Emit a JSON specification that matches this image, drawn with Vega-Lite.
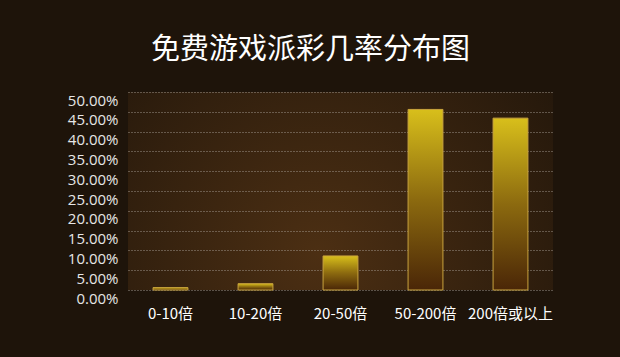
{
  "$schema": "https://vega.github.io/schema/vega-lite/v6.json",
  "width": 425,
  "height": 198,
  "autosize": {"type": "none"},
  "padding": {"left": 128, "top": 92, "right": 67, "bottom": 67},
  "background": "#1e140a",
  "title": {
    "text": "免费游戏派彩几率分布图",
    "font": "Noto Sans CJK SC",
    "fontSize": 29,
    "fontWeight": "normal",
    "color": "#ffffff",
    "anchor": "middle",
    "dx": -30,
    "offset": 27
  },
  "config": {
    "view": {
      "stroke": null,
      "fill": {
        "gradient": "radial",
        "x1": 0.45, "y1": 0.65, "r1": 0,
        "x2": 0.45, "y2": 0.65, "r2": 0.8,
        "stops": [
          {"offset": 0, "color": "#4c2f13"},
          {"offset": 1, "color": "#1e140a"}
        ]
      }
    }
  },
  "data": {
    "values": [
      {"range": "0-10倍", "rate": 0.006},
      {"range": "10-20倍", "rate": 0.016},
      {"range": "20-50倍", "rate": 0.086},
      {"range": "50-200倍", "rate": 0.456},
      {"range": "200倍或以上", "rate": 0.434}
    ]
  },
  "mark": {
    "type": "bar",
    "stroke": "#c9a43e",
    "strokeWidth": 1,
    "color": {
      "gradient": "linear",
      "x1": 0, "y1": 0, "x2": 0, "y2": 1,
      "stops": [
        {"offset": 0, "color": "#d8bf1b"},
        {"offset": 0.5, "color": "#8c6a0f"},
        {"offset": 1, "color": "#4a2607"}
      ]
    }
  },
  "encoding": {
    "x": {
      "field": "range",
      "type": "nominal",
      "sort": null,
      "scale": {"paddingInner": 0.59, "paddingOuter": 0.295},
      "axis": {
        "title": null,
        "labelAngle": 0,
        "domain": false,
        "ticks": false,
        "labelPadding": 16,
        "labelFont": "Noto Sans CJK SC",
        "labelFontSize": 15,
        "labelColor": "#ffffff",
        "grid": false
      }
    },
    "y": {
      "field": "rate",
      "type": "quantitative",
      "scale": {"domain": [0, 0.5], "nice": false},
      "axis": {
        "title": null,
        "format": ".2%",
        "values": [0, 0.05, 0.1, 0.15, 0.2, 0.25, 0.3, 0.35, 0.4, 0.45, 0.5],
        "domain": false,
        "ticks": false,
        "labelPadding": 10,
        "labelOffset": 8,
        "labelFont": "Open Sans",
        "labelFontSize": 15,
        "labelColor": "#e6e6e6",
        "grid": true,
        "gridColor": "#b8b0a8",
        "gridOpacity": 0.8,
        "gridDash": [1, 2],
        "gridWidth": 1
      }
    }
  }
}
